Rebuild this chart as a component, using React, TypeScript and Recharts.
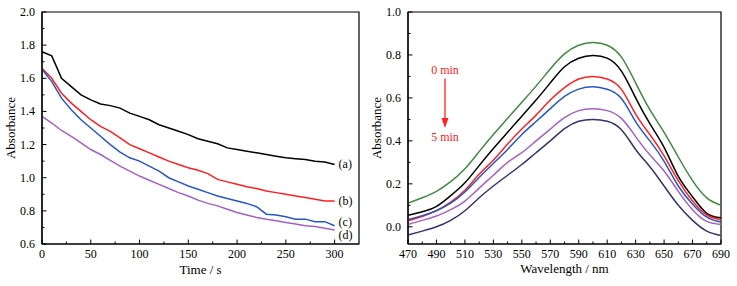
import {
  LineChart,
  Line,
  XAxis,
  YAxis,
  ReferenceArea,
  ReferenceLine,
  ReferenceDot,
} from 'recharts'

const FONT = 'Liberation Serif, serif'

// left panel: absorbance vs time
const TIME_S = [0, 10, 20, 30, 40, 50, 60, 70, 80, 90, 100, 110, 120, 130, 140, 150, 160, 170, 180, 190, 200, 210, 220, 230, 240, 250, 260, 270, 280, 290, 300]
const ABS_A = [1.76, 1.735, 1.6, 1.55, 1.5, 1.47, 1.445, 1.435, 1.42, 1.39, 1.37, 1.35, 1.32, 1.3, 1.28, 1.26, 1.235, 1.22, 1.205, 1.18, 1.17, 1.16, 1.15, 1.14, 1.13, 1.12, 1.115, 1.11, 1.1, 1.095, 1.08]
const ABS_B = [1.66, 1.6, 1.51, 1.45, 1.4, 1.35, 1.31, 1.28, 1.24, 1.2, 1.175, 1.15, 1.125, 1.1, 1.08, 1.06, 1.045, 1.025, 0.99, 0.975, 0.96, 0.945, 0.935, 0.92, 0.91, 0.9, 0.89, 0.88, 0.87, 0.86, 0.86]
const ABS_C = [1.655, 1.58, 1.48, 1.41, 1.35, 1.3, 1.25, 1.2, 1.155, 1.12, 1.1, 1.07, 1.04, 1.0, 0.975, 0.95, 0.93, 0.91, 0.89, 0.875, 0.86, 0.845, 0.825, 0.78, 0.775, 0.765, 0.75, 0.75, 0.735, 0.735, 0.71]
const ABS_D = [1.37, 1.33, 1.285, 1.25, 1.21, 1.17, 1.14, 1.105, 1.07, 1.04, 1.01, 0.985, 0.96, 0.935, 0.91, 0.89, 0.865, 0.845, 0.83, 0.81, 0.79, 0.775, 0.76, 0.75, 0.74, 0.73, 0.72, 0.71, 0.705, 0.695, 0.685]
const CURVE_TAGS = ['(a)', '(b)', '(c)', '(d)']

const TIME_TICKS = [0, 25, 50, 75, 100, 125, 150, 175, 200, 225, 250, 275, 300]
const LEFT_Y_TICKS = [0.6, 0.7, 0.8, 0.9, 1.0, 1.1, 1.2, 1.3, 1.4, 1.5, 1.6, 1.7, 1.8, 1.9, 2.0]

// right panel: spectra 0 -> 5 min
const WAVELENGTH = [470, 480, 490, 500, 510, 520, 530, 540, 550, 560, 570, 580, 590, 600, 610, 620, 630, 640, 650, 660, 670, 680, 690]
const SPEC_GREEN = [0.11, 0.135, 0.165, 0.21, 0.27, 0.35, 0.43, 0.505, 0.58, 0.655, 0.735, 0.805, 0.845, 0.858, 0.845, 0.79, 0.67, 0.545, 0.44, 0.325, 0.215, 0.135, 0.1]
const SPEC_BLACK = [0.054, 0.07, 0.095, 0.145, 0.205, 0.285, 0.365, 0.44, 0.515, 0.59, 0.67, 0.745, 0.785, 0.798, 0.785, 0.725, 0.6, 0.48, 0.37, 0.235, 0.14, 0.063, 0.042]
const SPEC_RED = [0.028, 0.048, 0.075, 0.115, 0.17, 0.245, 0.31, 0.385, 0.455, 0.52, 0.59, 0.648, 0.688, 0.7, 0.688, 0.64, 0.525, 0.43, 0.33, 0.215, 0.12, 0.055, 0.033]
const SPEC_BLUE = [0.034, 0.052, 0.075, 0.11, 0.162, 0.23, 0.295, 0.36, 0.43, 0.49, 0.55, 0.607, 0.641, 0.652, 0.64, 0.597, 0.49, 0.4, 0.305, 0.19, 0.105, 0.045, 0.022]
const SPEC_PURPLE = [0.011, 0.03, 0.05, 0.08, 0.12, 0.18, 0.24, 0.3, 0.345, 0.4, 0.455, 0.508, 0.541, 0.55, 0.541, 0.505, 0.42, 0.335, 0.26, 0.165, 0.08, 0.025, 0.011]
const SPEC_NAVY = [-0.038, -0.02, 0.0, 0.03, 0.075, 0.135, 0.19, 0.24, 0.29, 0.345, 0.4, 0.457, 0.491, 0.5, 0.491, 0.452, 0.36, 0.28, 0.19, 0.1, 0.03, -0.02, -0.04]

const WAVE_TICKS = [470, 480, 490, 500, 510, 520, 530, 540, 550, 560, 570, 580, 590, 600, 610, 620, 630, 640, 650, 660, 670, 680, 690]
const RIGHT_Y_TICKS = [0.0, 0.1, 0.2, 0.3, 0.4, 0.5, 0.6, 0.7, 0.8, 0.9, 1.0]

const leftRows = TIME_S.map((t, i) => ({ t, a: ABS_A[i], b: ABS_B[i], c: ABS_C[i], d: ABS_D[i] }))
const rightRows = WAVELENGTH.map((w, i) => ({
  w,
  green: SPEC_GREEN[i],
  black: SPEC_BLACK[i],
  red: SPEC_RED[i],
  blue: SPEC_BLUE[i],
  purple: SPEC_PURPLE[i],
  navy: SPEC_NAVY[i],
}))

const LEFT_SERIES = [
  { key: 'a', color: '#000000', dy: 0 },
  { key: 'b', color: '#ff1f1f', dy: 0 },
  { key: 'c', color: '#2457c5', dy: -4 },
  { key: 'd', color: '#a65fc4', dy: 5 },
]

const RIGHT_SERIES = [
  { key: 'green', color: '#3d8b3d' },
  { key: 'black', color: '#000000' },
  { key: 'red', color: '#ff2222' },
  { key: 'blue', color: '#2458c5' },
  { key: 'purple', color: '#a75fc5' },
  { key: 'navy', color: '#33336e' },
]

const textStyle = { fontFamily: FONT, fontSize: 12 }
const evenTenth = (v: number) => Math.round(v * 10) % 2 === 0

function makeYTick(isMajor: (v: number) => boolean, fmt: (v: number) => string) {
  return (props: any) => {
    const { x = 0, y = 0, payload } = props
    const v = payload?.value as number
    const major = isMajor(v)
    return (
      <g>
        <line x1={x} y1={y} x2={x + (major ? 4.5 : 2.5)} y2={y} stroke="#000" strokeWidth={1} />
        {major && (
          <text x={x - 7} y={y + 4} textAnchor="end" style={textStyle} fill="#000">
            {fmt(v)}
          </text>
        )}
      </g>
    )
  }
}

function makeXTick(isMajor: (v: number) => boolean) {
  return (props: any) => {
    const { x = 0, y = 0, payload } = props
    const v = payload?.value as number
    const major = isMajor(v)
    return (
      <g>
        <line x1={x} y1={y} x2={x} y2={y - (major ? 4.5 : 2.5)} stroke="#000" strokeWidth={1} />
        {major && (
          <text x={x} y={y + 14} textAnchor="middle" style={textStyle} fill="#000">
            {v}
          </text>
        )}
      </g>
    )
  }
}

const axisLabelStyle = { textAnchor: 'middle' as const, fontSize: 13, fontFamily: FONT, fill: '#000' }

function TimePanel() {
  const last = TIME_S.length - 1
  return (
    <LineChart width={370} height={286} data={leftRows} margin={{ top: 12, right: 11, bottom: 0, left: 0 }}>
      <XAxis
        dataKey="t"
        type="number"
        domain={[0, 325]}
        ticks={TIME_TICKS}
        interval={0}
        height={42}
        tickSize={0}
        tickMargin={0}
        tickLine={false}
        axisLine={{ stroke: '#000', strokeWidth: 1.2 }}
        tick={makeXTick((v) => v % 50 === 0)}
        label={{ value: 'Time / s', position: 'insideBottom', offset: 12, style: axisLabelStyle }}
      />
      <YAxis
        type="number"
        domain={[0.6, 2.0]}
        ticks={LEFT_Y_TICKS}
        interval={0}
        width={42}
        tickSize={0}
        tickMargin={0}
        tickLine={false}
        axisLine={{ stroke: '#000', strokeWidth: 1.2 }}
        tick={makeYTick(evenTenth, (v) => v.toFixed(1))}
        label={{ value: 'Absorbance', angle: -90, position: 'insideLeft', offset: 10, style: axisLabelStyle }}
      />
      <ReferenceArea x1={0} x2={325} y1={0.6} y2={2.0} fill="none" stroke="#000" strokeWidth={1.2} />
      {LEFT_SERIES.map((s, si) => (
        <Line
          key={s.key}
          type="linear"
          dataKey={s.key}
          stroke={s.color}
          strokeWidth={1.5}
          dot={false}
          activeDot={false}
          isAnimationActive={false}
          label={(p: any) =>
            p.index === last ? (
              <text x={p.x + 4} y={p.y + 4 + s.dy} style={textStyle} fill="#000">
                {CURVE_TAGS[si]}
              </text>
            ) : (
              <g />
            )
          }
        />
      ))}
    </LineChart>
  )
}

function SpectraPanel() {
  return (
    <LineChart width={371} height={286} data={rightRows} margin={{ top: 12, right: 16, bottom: 0, left: 0 }}>
      <XAxis
        dataKey="w"
        type="number"
        domain={[470, 690]}
        ticks={WAVE_TICKS}
        interval={0}
        height={42}
        tickSize={0}
        tickMargin={0}
        tickLine={false}
        axisLine={{ stroke: '#000', strokeWidth: 1.2 }}
        tick={makeXTick((v) => (v - 470) % 20 === 0)}
        label={{ value: 'Wavelength / nm', position: 'insideBottom', offset: 13, style: axisLabelStyle }}
      />
      <YAxis
        type="number"
        domain={[-0.08, 1.0]}
        ticks={RIGHT_Y_TICKS}
        interval={0}
        width={42}
        tickSize={0}
        tickMargin={0}
        tickLine={false}
        axisLine={{ stroke: '#000', strokeWidth: 1.2 }}
        tick={makeYTick(evenTenth, (v) => v.toFixed(1))}
        label={{ value: 'Absorbance', angle: -90, position: 'insideLeft', offset: 10, style: axisLabelStyle }}
      />
      <ReferenceArea x1={470} x2={690} y1={-0.08} y2={1.0} fill="none" stroke="#000" strokeWidth={1.2} />
      {RIGHT_SERIES.map((s) => (
        <Line
          key={s.key}
          type="natural"
          dataKey={s.key}
          stroke={s.color}
          strokeWidth={1.5}
          dot={false}
          activeDot={false}
          isAnimationActive={false}
        />
      ))}
      <ReferenceLine
        segment={[
          { x: 496, y: 0.69 },
          { x: 496, y: 0.49 },
        ]}
        stroke="#ff2020"
        strokeWidth={1.3}
      />
      <ReferenceDot
        x={496}
        y={0.46}
        r={0}
        shape={(p: any) => (
          <polygon
            points={`${p.cx},${p.cy} ${p.cx - 3.5},${p.cy - 10} ${p.cx + 3.5},${p.cy - 10}`}
            fill="#ff2020"
          />
        )}
      />
      <ReferenceDot
        x={496}
        y={0.71}
        r={0}
        shape={(p: any) => (
          <text x={p.cx} y={p.cy} textAnchor="middle" style={textStyle} fill="#ff2020">
            0 min
          </text>
        )}
      />
      <ReferenceDot
        x={496}
        y={0.4}
        r={0}
        shape={(p: any) => (
          <text x={p.cx} y={p.cy} textAnchor="middle" style={textStyle} fill="#ff2020">
            5 min
          </text>
        )}
      />
    </LineChart>
  )
}

export default function App() {
  return (
    <div style={{ position: 'absolute', left: 0, top: 0, width: 737, height: 286, background: '#fff', fontFamily: FONT }}>
      <div style={{ position: 'absolute', left: 0, top: 0 }}>
        <TimePanel />
      </div>
      <div style={{ position: 'absolute', left: 366, top: 0 }}>
        <SpectraPanel />
      </div>
    </div>
  )
}
